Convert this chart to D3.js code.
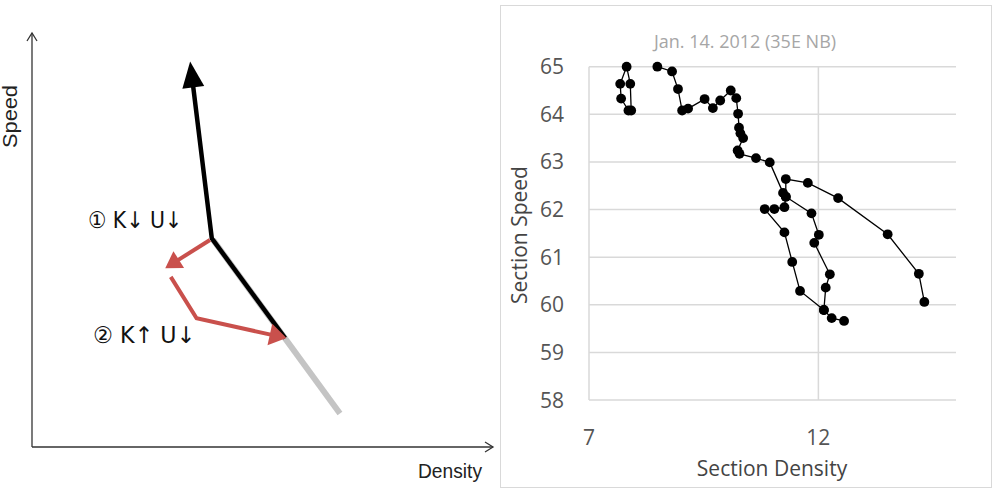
<!DOCTYPE html>
<html>
<head>
<meta charset="utf-8">
<script src="https://cdn.jsdelivr.net/npm/d3@7"></script>
<style>
  body { margin: 0; background: #fff; }
  svg { display: block; }
</style>
</head>
<body>
<div id="chart"></div>
<script>
// ---- right chart data ----
var speedTicks = [58, 59, 60, 61, 62, 63, 64, 65];
var densityTicks = [7, 12];

// small loop at top-left
var loopDensity = [7.92, 7.90, 7.82, 7.68, 7.70, 7.86];
var loopSpeed   = [64.08, 64.64, 65.00, 64.64, 64.33, 64.08];

// main trajectory going down
var trackDensity = [8.49, 8.81, 8.94, 9.03, 9.16, 9.52, 9.70, 9.86, 10.09, 10.21, 10.25, 10.27, 10.30, 10.36, 10.24, 10.28, 10.64, 10.94,
                    11.23, 11.29, 11.26, 11.04, 10.83, 11.26, 11.43, 11.60, 12.12, 12.29, 12.56];
var trackSpeed   = [65.00, 64.90, 64.53, 64.08, 64.12, 64.32, 64.13, 64.29, 64.50, 64.34, 64.01, 63.72, 63.60, 63.50, 63.24, 63.17, 63.08, 62.99,
                    62.35, 62.27, 62.05, 62.01, 62.01, 61.52, 60.90, 60.29, 59.89, 59.72, 59.66];

// return branch
var returnDensity = [12.12, 12.16, 12.25, 11.91, 12.01, 11.85, 11.29, 11.29, 11.77, 12.43, 13.51, 14.19, 14.31];
var returnSpeed   = [59.89, 60.36, 60.64, 61.30, 61.47, 61.92, 62.27, 62.64, 62.56, 62.24, 61.48, 60.65, 60.06];

// ---- left schematic (abstract units 0..100) ----
var blackX = [54.9, 39.0, 34.3];
var blackY = [26.3, 50.4, 93.1];
var greyX = [39.3, 66.8];
var greyY = [50.0, 8.1];
var red1X = [38.6, 28.9];
var red1Y = [50.0, 43.2];
var red2X = [30.1, 35.7, 55.2];
var red2Y = [41.1, 31.1, 26.3];

var width = 996, height = 489;

var svg = d3.select("#chart")
    .append("svg")
    .attr("width", width)
    .attr("height", height);

// ================= left panel =================
var xL = d3.scaleLinear().domain([0, 100]).range([32, 493]);
var yL = d3.scaleLinear().domain([0, 100]).range([447, 33]);

var left = svg.append("g");

// axes with open arrow heads
left.append("line")
  .attr("x1", xL(0)).attr("y1", yL(0)).attr("x2", xL(0)).attr("y2", yL(100))
  .attr("stroke", "#333").attr("stroke-width", 1.3);
left.append("line")
  .attr("x1", xL(0)).attr("y1", yL(0)).attr("x2", xL(100)).attr("y2", yL(0))
  .attr("stroke", "#333").attr("stroke-width", 1.3);
left.append("path")
  .attr("d", "M" + (xL(0) - 5) + "," + (yL(100) + 8) + "L" + xL(0) + "," + yL(100) + "L" + (xL(0) + 5) + "," + (yL(100) + 8))
  .attr("fill", "none").attr("stroke", "#333").attr("stroke-width", 1.3);
left.append("path")
  .attr("d", "M" + (xL(100) - 8) + "," + (yL(0) - 5) + "L" + xL(100) + "," + yL(0) + "L" + (xL(100) - 8) + "," + (yL(0) + 5))
  .attr("fill", "none").attr("stroke", "#333").attr("stroke-width", 1.3);

left.append("text")
  .attr("transform", "translate(17,85) rotate(-90)")
  .attr("text-anchor", "end")
  .style("font-family", "Liberation Sans, Arial, sans-serif")
  .style("font-size", "20px")
  .attr("fill", "#222")
  .attr("textLength", 63)
  .attr("lengthAdjust", "spacingAndGlyphs")
  .text("Speed");
left.append("text")
  .attr("x", 418).attr("y", 478)
  .style("font-family", "Liberation Sans, Arial, sans-serif")
  .style("font-size", "20px")
  .attr("fill", "#222")
  .attr("textLength", 64)
  .attr("lengthAdjust", "spacingAndGlyphs")
  .text("Density");

function pts(xs, ys) {
  return xs.map(function(v, i) { return [xL(v), yL(ys[i])]; });
}
var lineL = d3.line();

// arrow head polygon at the end of a polyline
function head(p, len, wid) {
  var a = p[p.length - 2], b = p[p.length - 1];
  var dx = b[0] - a[0], dy = b[1] - a[1];
  var d = Math.sqrt(dx * dx + dy * dy);
  var ux = dx / d, uy = dy / d;
  var bx = b[0] - ux * len, by = b[1] - uy * len;
  return [[b[0], b[1]], [bx - uy * wid / 2, by + ux * wid / 2], [bx + uy * wid / 2, by - ux * wid / 2]];
}
function shorten(p, len) {
  var q = p.slice();
  var a = q[q.length - 2], b = q[q.length - 1];
  var dx = b[0] - a[0], dy = b[1] - a[1];
  var d = Math.sqrt(dx * dx + dy * dy);
  q[q.length - 1] = [b[0] - dx / d * len, b[1] - dy / d * len];
  return q;
}

var greyPts = pts(greyX, greyY);
left.append("path").attr("d", lineL(greyPts))
  .attr("fill", "none").attr("stroke", "#c4c4c4").attr("stroke-width", 6);

var blackPts = pts(blackX, blackY);
left.append("path").attr("d", lineL(shorten(blackPts, 12)))
  .attr("fill", "none").attr("stroke", "#000").attr("stroke-width", 4.5)
  .attr("stroke-linejoin", "round");
left.append("polygon").attr("points", head(blackPts, 26, 22).join(" ")).attr("fill", "#000");

var red = "#c9504c";
var r1 = pts(red1X, red1Y);
left.append("path").attr("d", lineL(shorten(r1, 8)))
  .attr("fill", "none").attr("stroke", red).attr("stroke-width", 4);
left.append("polygon").attr("points", head(r1, 16, 20).join(" ")).attr("fill", red);

var r2 = pts(red2X, red2Y);
left.append("path").attr("d", lineL(shorten(r2, 8)))
  .attr("fill", "none").attr("stroke", red).attr("stroke-width", 4);
left.append("polygon").attr("points", head(r2, 17, 22).join(" ")).attr("fill", red);

var labelFont = "DejaVu Sans, Liberation Sans, sans-serif";
left.append("text")
  .attr("x", 88).attr("y", 228)
  .style("font-family", labelFont)
  .style("font-size", "23px")
  .attr("fill", "#111")
  .attr("textLength", 94)
  .attr("lengthAdjust", "spacingAndGlyphs")
  .text("\u2460 K\u2193 U\u2193");
left.append("text")
  .attr("x", 93).attr("y", 343)
  .style("font-family", labelFont)
  .style("font-size", "23px")
  .attr("fill", "#111")
  .attr("textLength", 102)
  .attr("lengthAdjust", "spacingAndGlyphs")
  .text("\u2461 K\u2191 U\u2193");

// ================= right panel =================
var right = svg.append("g");
right.append("rect")
  .attr("x", 500.5).attr("y", 5.5).attr("width", 491).attr("height", 482)
  .attr("fill", "#fff").attr("stroke", "#d9d9d9");

var xR = d3.scaleLinear().domain([7, 15]).range([589, 956]);
var yR = d3.scaleLinear().domain([58, 65]).range([400, 66.7]);

right.selectAll(".hgrid")
  .data(speedTicks)
  .join("line")
  .attr("x1", xR(7)).attr("x2", xR(15))
  .attr("y1", function(d) { return yR(d); })
  .attr("y2", function(d) { return yR(d); })
  .attr("stroke", "#d9d9d9").attr("stroke-width", 1.5);
right.selectAll(".vgrid")
  .data(densityTicks)
  .join("line")
  .attr("x1", function(d) { return xR(d); })
  .attr("x2", function(d) { return xR(d); })
  .attr("y1", yR(58)).attr("y2", yR(65))
  .attr("stroke", "#d9d9d9").attr("stroke-width", 1.5);

var tickFont = "Open Sans, sans-serif";
right.selectAll(".ylab")
  .data(speedTicks)
  .join("text")
  .attr("x", 564)
  .attr("y", function(d) { return yR(d); })
  .attr("dy", "0.36em")
  .attr("text-anchor", "end")
  .style("font-family", tickFont)
  .style("font-size", "21px")
  .attr("fill", "#555")
  .text(function(d) { return d; });
right.selectAll(".xlab")
  .data(densityTicks)
  .join("text")
  .attr("x", function(d) { return xR(d); })
  .attr("y", 445)
  .attr("text-anchor", "middle")
  .style("font-family", tickFont)
  .style("font-size", "21px")
  .attr("fill", "#555")
  .text(function(d) { return d; });

right.append("text")
  .attr("x", 745).attr("y", 48)
  .attr("text-anchor", "middle")
  .style("font-family", tickFont)
  .style("font-size", "18px")
  .attr("fill", "#a6a6a6")
  .text("Jan. 14. 2012 (35E NB)");
right.append("text")
  .attr("x", 772).attr("y", 476)
  .attr("text-anchor", "middle")
  .style("font-family", tickFont)
  .style("font-size", "21px")
  .attr("fill", "#444")
  .text("Section Density");
right.append("text")
  .attr("transform", "translate(527,235) rotate(-90)")
  .attr("text-anchor", "middle")
  .style("font-family", tickFont)
  .style("font-size", "21px")
  .attr("fill", "#444")
  .text("Section Speed");

var seriesList = [
  [loopDensity, loopSpeed],
  [trackDensity, trackSpeed],
  [returnDensity, returnSpeed]
];
var lineR = d3.line()
  .x(function(d) { return xR(d[0]); })
  .y(function(d) { return yR(d[1]); });

seriesList.forEach(function(s) {
  var data = d3.zip(s[0], s[1]);
  right.append("path")
    .attr("d", lineR(data))
    .attr("fill", "none")
    .attr("stroke", "#000")
    .attr("stroke-width", 1.3);
  right.selectAll(null)
    .data(data)
    .join("circle")
    .attr("cx", function(d) { return xR(d[0]); })
    .attr("cy", function(d) { return yR(d[1]); })
    .attr("r", 4.9)
    .attr("fill", "#000");
});
</script>
</body>
</html>
